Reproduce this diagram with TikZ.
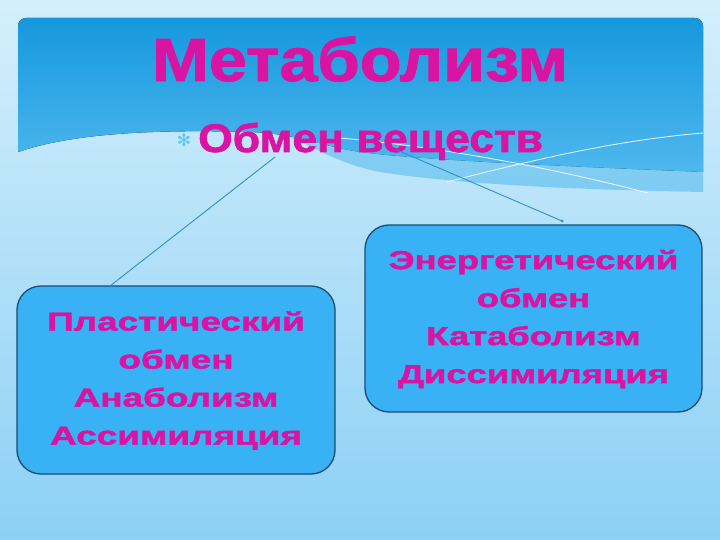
\documentclass[tikz,border=0pt]{standalone}
\usepackage{fontspec}
\setmainfont{Liberation Sans}
\newfontfamily\heavyfont[FakeBold=1.6]{Liberation Sans}
\newfontfamily\symfont{DejaVu Sans}
\usetikzlibrary{calc}
\definecolor{mag}{RGB}{218,20,162}
\definecolor{boxfill}{RGB}{56,178,244}
\definecolor{boxline}{RGB}{30,75,115}
\definecolor{bgtop}{RGB}{212,239,252}
\definecolor{bgbot}{RGB}{140,208,245}
\definecolor{bantop}{RGB}{22,152,222}
\definecolor{banbot}{RGB}{78,184,238}
\definecolor{conn}{RGB}{45,145,205}
\definecolor{bulletcol}{RGB}{90,195,240}
\begin{document}
\begin{tikzpicture}[x=1pt,y=-1pt,
  infobox/.style={draw=boxline, line width=1.3pt, fill=boxfill, rounded corners=24pt, inner sep=0pt},
  boxtext/.style={text=mag, font=\heavyfont\fontsize{26}{38}\selectfont\bfseries, align=center},
  connector/.style={draw=conn, line width=0.9pt},
  sheen/.style={draw=white, line width=0.8pt, opacity=0.9}]
% background
\useasboundingbox (0,0) rectangle (720,540);
\fill[top color=bgtop, bottom color=bgbot] (0,0) rectangle (720,540);
% banner
\fill[top color=bantop, bottom color=banbot]
  (18,152) [rounded corners=8pt] -- (18,18) -- (703,18) [sharp corners] -- (703,172)
  .. controls (560,166) and (420,160) .. (360,152)
  .. controls (320,146) and (300,134) .. (250,132)
  .. controls (150,129) and (70,134) .. (18,152) -- cycle;
\fill[banbot, opacity=0.55]
  (703,172) .. controls (560,166) and (420,160) .. (360,152)
  .. controls (320,146) and (300,138) .. (290,137)
  .. controls (320,150) and (340,164) .. (380,172)
  .. controls (470,186) and (600,190) .. (703,192) -- cycle;
% sheen lines
\draw[sheen] (340,138) .. controls (450,148) and (560,170) .. (648,193);
\draw[sheen] (447,182) .. controls (540,158) and (620,140) .. (703,133);
% texts
\node[text=mag, font=\heavyfont\fontsize{61}{61}\selectfont\bfseries, anchor=base] (title) at (360,81) {\scalebox{1.12}[1]{Метаболизм}};
\node[text=bulletcol, font=\symfont\fontsize{17}{17}\selectfont] (bul) at (184,140) {✻};
\node[anchor=base west, inner sep=0pt, text=mag, font=\heavyfont\fontsize{40}{40}\selectfont\bfseries] (sub) at (198,152) {\scalebox{1.11}[1]{Обмен веществ}};
% boxes
\node[infobox, minimum width=318pt, minimum height=188pt, boxtext] (plast) at (176,380)
  {\scalebox{1.42}[1]{\begin{tabular}{@{}c@{}}Пластический\\обмен\\Анаболизм\\Ассимиляция\end{tabular}}};
\node[infobox, minimum width=337pt, minimum height=187pt, boxtext] (energ) at (533.5,318.5)
  {\scalebox{1.4}[1]{\begin{tabular}{@{}c@{}}Энергетический\\обмен\\Катаболизм\\Диссимиляция\end{tabular}}};
% connectors
\coordinate (lA) at (275,157);
\coordinate (lB) at (110,286);
\coordinate (rA) at (397,150);
\coordinate (rB) at (562,221);
\draw[connector] (lA) -- (lB);
\draw[connector] (rA) -- (rB);
\fill[conn] (rB) circle (1.5pt);
\end{tikzpicture}
\end{document}
